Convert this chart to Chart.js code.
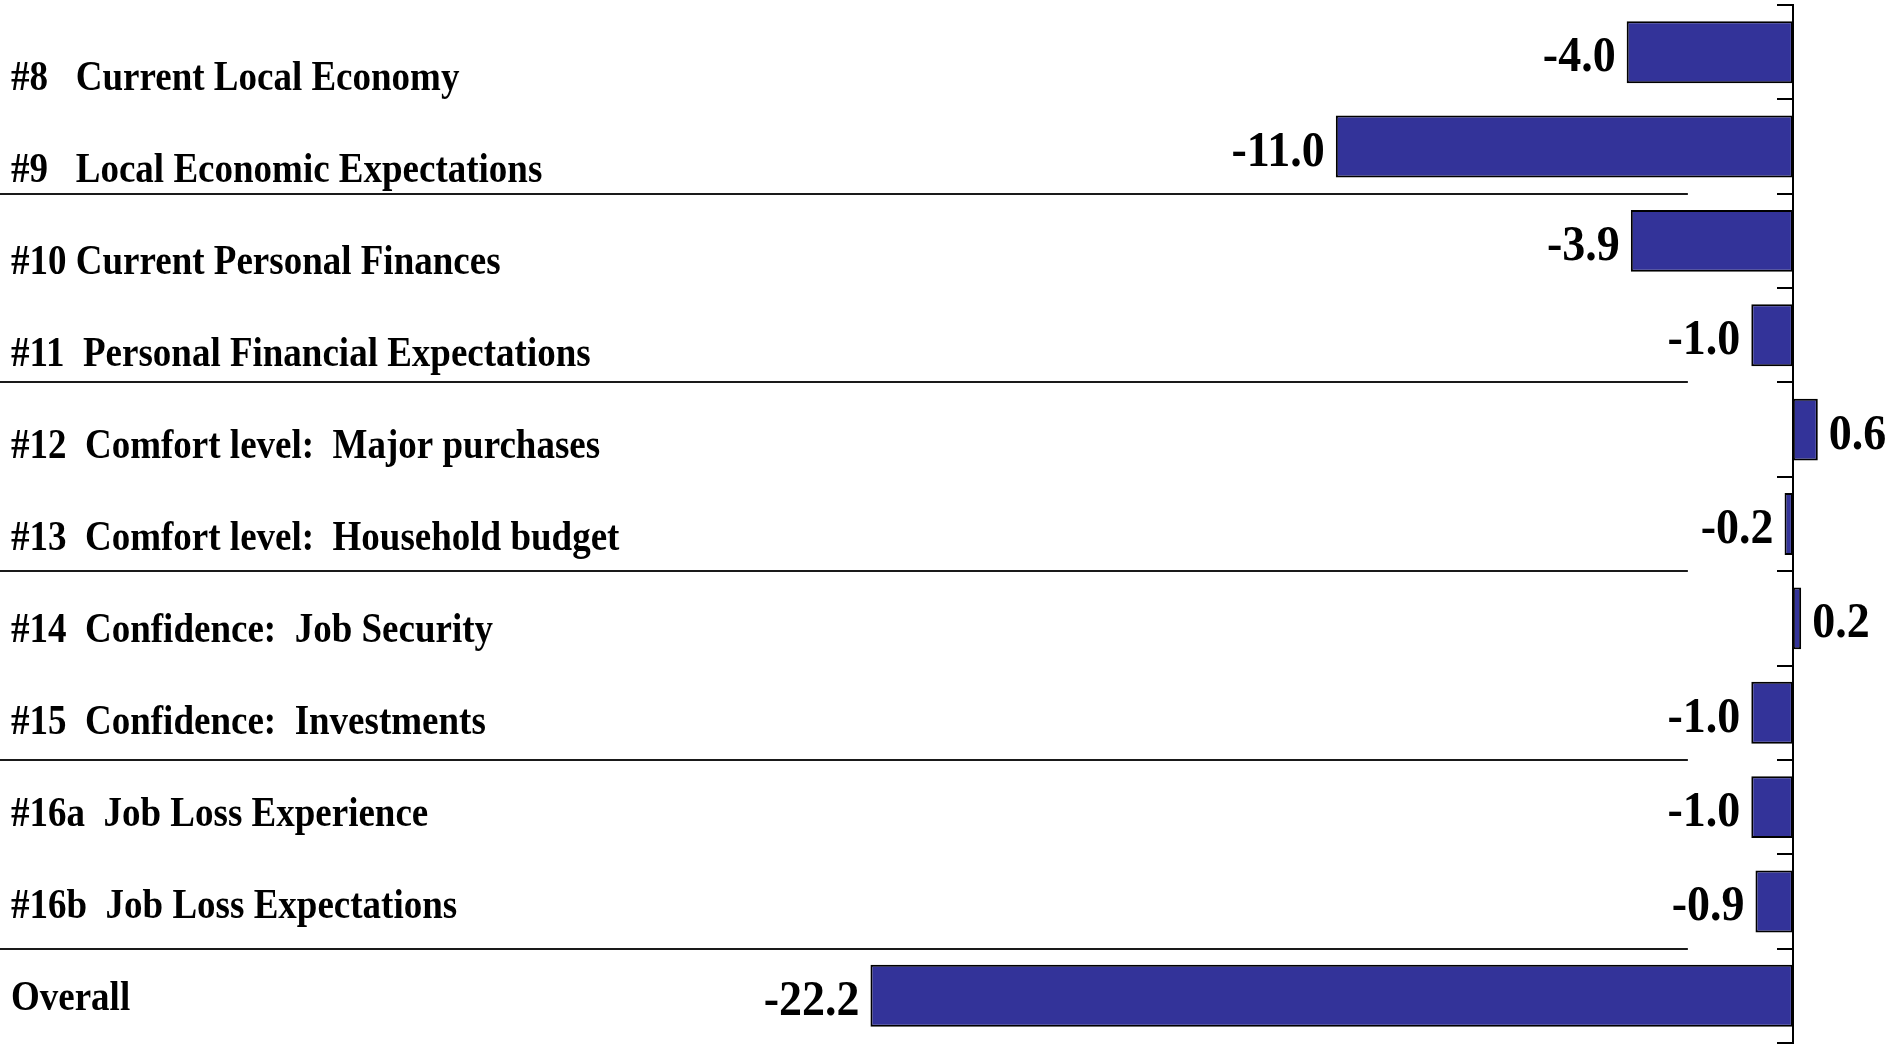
<!DOCTYPE html>
<html>
<head>
<meta charset="utf-8">
<script src="https://cdn.jsdelivr.net/npm/chart.js@4.4.1/dist/chart.umd.min.js"></script>
<style>
  html, body { margin: 0; padding: 0; background: #fff; }
  #wrap { width: 1893px; height: 1045px; position: relative; }
</style>
</head>
<body>
<div id="wrap"><canvas id="chart"></canvas></div>
<script>
const categories = [
  '#8   Current Local Economy',
  '#9   Local Economic Expectations',
  '#10 Current Personal Finances',
  '#11  Personal Financial Expectations',
  '#12  Comfort level:  Major purchases',
  '#13  Comfort level:  Household budget',
  '#14  Confidence:  Job Security',
  '#15  Confidence:  Investments',
  '#16a  Job Loss Experience',
  '#16b  Job Loss Expectations',
  'Overall'
];
const values = [-4.0, -11.0, -3.9, -1.0, 0.6, -0.2, 0.2, -1.0, -1.0, -0.9, -22.2];
const valueLabels = values.map(v => v.toFixed(1));
// a rule is drawn under each of these rows
const groupEnds = [1, 3, 5, 7, 9];

const SERIF = '"Liberation Serif", "Times New Roman", serif';

// text in the original is slightly taller than it is wide
function tallText(ctx, txt, x, y, sy) {
  ctx.save();
  ctx.translate(x, y);
  ctx.scale(1, sy);
  ctx.fillText(txt, 0, 0);
  ctx.restore();
}

const rowText = {
  id: 'rowText',
  afterDatasetsDraw(chart) {
    const ctx = chart.ctx, x = chart.scales.x, y = chart.scales.y;
    const zero = x.getPixelForValue(0);
    ctx.save();

    ctx.strokeStyle = '#1a1a1a';
    ctx.lineWidth = 2;
    groupEnds.forEach(i => {
      const py = Math.round((y.getPixelForValue(i) + y.getPixelForValue(i + 1)) / 2);
      ctx.beginPath(); ctx.moveTo(0, py); ctx.lineTo(zero - 105, py); ctx.stroke();
    });

    ctx.fillStyle = '#000';
    ctx.textBaseline = 'alphabetic';
    ctx.textAlign = 'left';
    ctx.font = 'bold 37px ' + SERIF;
    // the row titles sit a little below the bars at the top and drift up toward the bottom
    categories.forEach((c, i) => tallText(ctx, c, 11, y.getPixelForValue(i) + 38 - 2.4 * i, 1.13));

    ctx.font = 'bold 46px ' + SERIF;
    chart.getDatasetMeta(0).data.forEach((bar, i) => {
      const neg = values[i] < 0;
      ctx.textAlign = neg ? 'right' : 'left';
      tallText(ctx, valueLabels[i], neg ? bar.x - 11 : bar.x + 11, bar.y + 19, 1.1);
    });
    ctx.restore();
  }
};

new Chart(document.getElementById('chart'), {
  type: 'bar',
  data: {
    labels: categories,
    datasets: [{
      data: values,
      backgroundColor: '#333399',
      borderColor: '#000',
      borderWidth: 2,
      borderSkipped: false,
      barPercentage: 0.656,
      categoryPercentage: 1
    }]
  },
  options: {
    indexAxis: 'y',
    responsive: true,
    maintainAspectRatio: false,
    animation: false,
    layout: { padding: { top: 5, bottom: 2, left: 0, right: 0 } },
    plugins: { legend: { display: false }, tooltip: { enabled: false } },
    scales: {
      x: { type: 'linear', min: -43.15, max: 2.41, display: false },
      y: {
        type: 'category',
        position: { x: 0 },
        offset: true,
        grid: { offset: true, drawOnChartArea: false, drawTicks: true, tickLength: 15, color: '#000', lineWidth: 2 },
        border: { display: true, color: '#000', width: 2, z: 1 },
        ticks: { display: false }
      }
    }
  },
  plugins: [rowText]
});
</script>
</body>
</html>
